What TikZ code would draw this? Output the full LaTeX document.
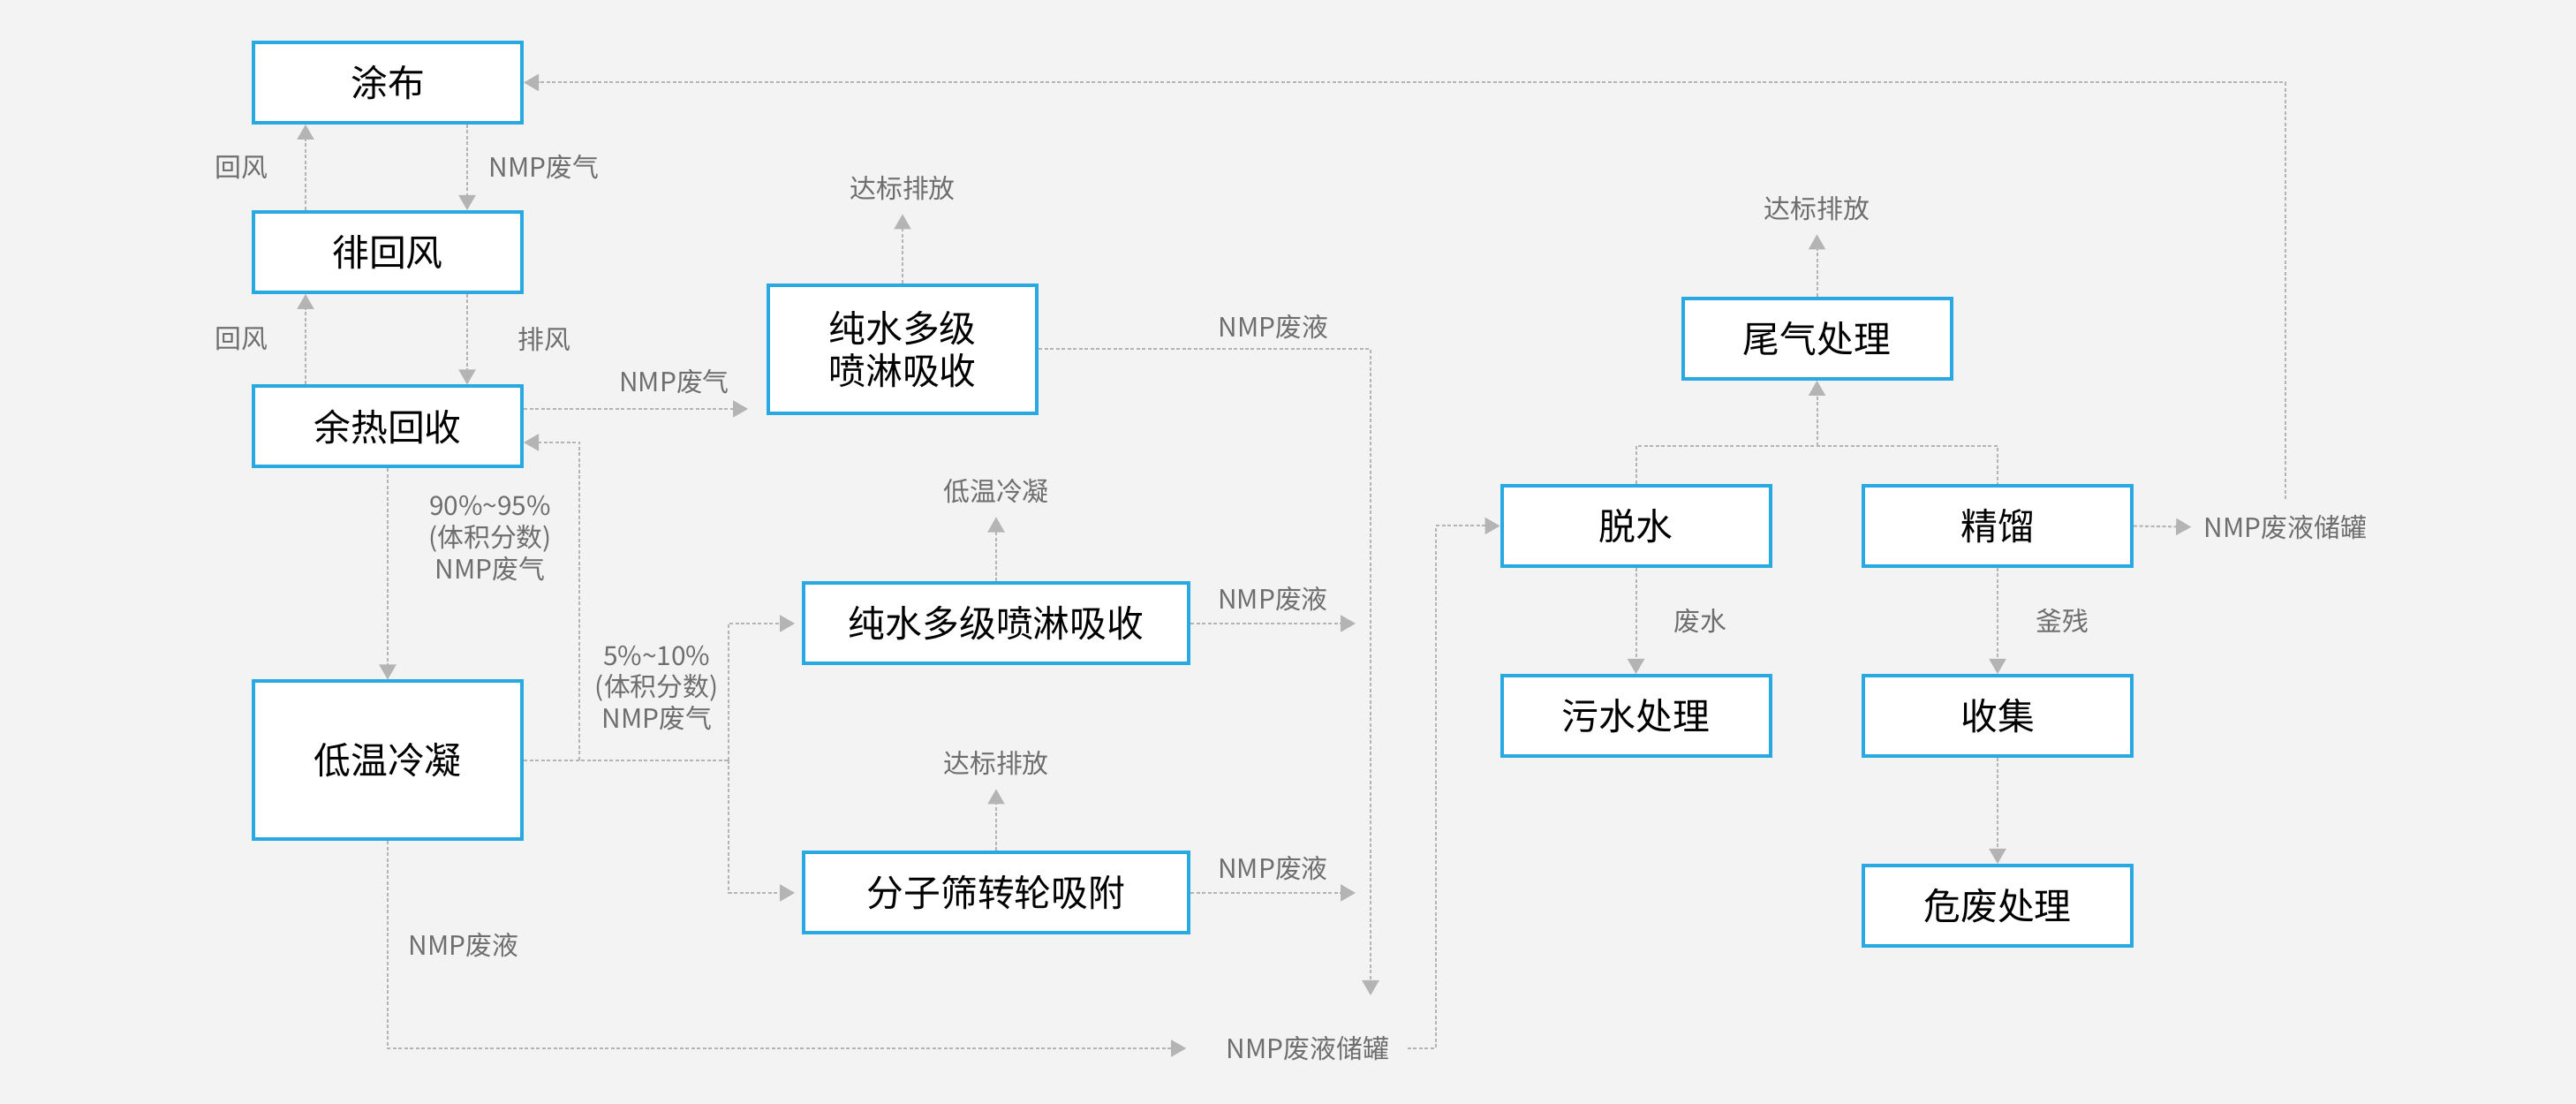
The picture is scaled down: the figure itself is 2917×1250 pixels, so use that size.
\documentclass[tikz,border=0pt]{standalone}
\usepackage{fontspec}
\setmainfont{Noto Sans CJK SC}
\usetikzlibrary{arrows.meta}
\definecolor{boxblue}{HTML}{29A9E1}
\definecolor{linegray}{HTML}{B4B4B4}
\definecolor{textgray}{HTML}{6E6E6E}
\definecolor{bggray}{HTML}{F3F3F3}
\begin{document}
\begin{tikzpicture}[x=0.1mm, y=-0.1mm,
        box/.style={draw=boxblue, line width=0.4mm, fill=white, minimum width=30.4mm, minimum height=9.1mm, inner sep=0pt, align=center, font=\fontsize{11.9pt}{13.7pt}\selectfont},
        lbl/.style={text=textgray, inner sep=0pt, align=center, font=\fontsize{8.5pt}{10.2pt}\selectfont},
        flow/.style={draw=linegray, line width=0.2mm, dash pattern=on 0.4mm off 0.25mm},
        >={Triangle[length=1.7mm, width=1.9mm]}]
        \fill[bggray] (0,0) rectangle (2917,1250) ;
        \useasboundingbox (0,0) rectangle (2917,1250) ;
        % process boxes
        \node[box] (tubu) at (439,93.5) {涂布} ;
        \node[box] (paihui) at (439,285.5) {徘回风} ;
        \node[box] (yure) at (439,483) {余热回收} ;
        \node[box, minimum height=17.9mm] (diwen) at (439,861) {低温冷凝} ;
        \node[box, minimum height=14.5mm] (penlin) at (1022,395.5) {纯水多级\\喷淋吸收} ;
        \node[box, minimum width=43.6mm] (penlinb) at (1128,706) {纯水多级喷淋吸收} ;
        \node[box, minimum width=43.6mm] (fenzi) at (1128,1011) {分子筛转轮吸附} ;
        \node[box] (weiqi) at (2057.5,383.5) {尾气处理} ;
        \node[box] (tuoshui) at (1852.5,595.5) {脱水} ;
        \node[box] (jingliu) at (2262,595.5) {精馏} ;
        \node[box] (wushui) at (1852.5,810.5) {污水处理} ;
        \node[box] (shouji) at (2262,810.5) {收集} ;
        \node[box] (weifei) at (2262,1025.5) {危废处理} ;
        % end points
        \node[lbl] (dabiaoA) at (1022,213) {达标排放} ;
        \node[lbl] (lengning) at (1128,556) {低温冷凝} ;
        \node[lbl] (dabiaoB) at (1128,864) {达标排放} ;
        \node[lbl] (dabiaoC) at (2057.5,236) {达标排放} ;
        \node[lbl] (tankA) at (1481,1187) {NMP废液储罐} ;
        \node[lbl] (tankB) at (2588,597) {NMP废液储罐} ;
        \coordinate (back) at (656,861) ;
        \coordinate (split) at (825,861) ;
        \coordinate (drop) at (1552,1127) ;
        \coordinate (outB) at (1535,706) ;
        \coordinate (merge) at (2057.5,505) ;
        % coating loop
        \draw[flow, ->] ([xshift=-9.3mm]paihui.north) --node[lbl, midway, xshift=-7.3mm]{回风} ([xshift=-9.3mm]tubu.south) ;
        \draw[flow, ->] ([xshift=9mm]tubu.south) --node[lbl, midway, xshift=8.7mm]{NMP废气} ([xshift=9mm]paihui.north) ;
        \draw[flow, ->] ([xshift=-9.3mm]yure.north) --node[lbl, midway, xshift=-7.3mm]{回风} ([xshift=-9.3mm]paihui.south) ;
        \draw[flow, ->] ([xshift=9mm]paihui.south) --node[lbl, midway, xshift=8.7mm]{排风} ([xshift=9mm]yure.north) ;
        \draw[flow, ->, shorten >=2.1mm] ([yshift=2mm]yure.east) --node[lbl, pos=0.62, yshift=3.1mm]{NMP废气} ([yshift=2mm]yure.east -| penlin.west) ;
        \draw[flow, ->] (yure.south) --node[lbl, pos=0.33, xshift=11.6mm]{90\%\textasciitilde95\%\\(体积分数)\\NMP废气} (diwen.north) ;
        % condenser outlets
        \draw[flow] (diwen.east) --node[lbl, pos=0.65, yshift=8.2mm]{5\%\textasciitilde10\%\\(体积分数)\\NMP废气} (split) ;
        \draw[flow, ->] (back) |- ([yshift=-1.8mm]yure.east) ;
        \draw[flow, ->, shorten >=0.8mm] (split) |- (penlinb.west) ;
        \draw[flow, ->, shorten >=0.8mm] (split) |- (fenzi.west) ;
        \draw[flow, ->, shorten >=4.5mm] (diwen.south) |-node[lbl, pos=0.25, xshift=8.6mm]{NMP废液} (tankA.west) ;
        \draw[flow, ->, shorten <=2mm] (tankA.east) -- ++(52,0) |- (tuoshui.west) ;
        % absorber outlets
        \draw[flow, ->] (penlin.east) -|node[lbl, pos=0.354, yshift=2.5mm]{NMP废液} (drop) ;
        \draw[flow, ->] (penlinb.east) --node[lbl, midway, yshift=2.8mm]{NMP废液} (outB) ;
        \draw[flow, ->] (fenzi.east) --node[lbl, midway, yshift=2.8mm]{NMP废液} (fenzi.east -| outB) ;
        \draw[flow, ->, shorten >=1.5mm] (penlin.north) -- (dabiaoA.south) ;
        \draw[flow, ->, shorten >=1.5mm] (penlinb.north) -- (lengning.south) ;
        \draw[flow, ->, shorten >=1.5mm] (fenzi.north) -- (dabiaoB.south) ;
        % recovery side
        \draw[flow] (tuoshui.north) |- (merge) -| (jingliu.north) ;
        \draw[flow, ->] (merge) -- (weiqi.south) ;
        \draw[flow, ->, shorten >=1.5mm] (weiqi.north) -- (dabiaoC.south) ;
        \draw[flow, ->] (tuoshui.south) --node[lbl, midway, xshift=7.3mm]{废水} (wushui.north) ;
        \draw[flow, ->] (jingliu.south) --node[lbl, midway, xshift=7.3mm]{釜残} (shouji.north) ;
        \draw[flow, ->] (shouji.south) -- (weifei.north) ;
        \draw[flow, ->, shorten >=1.4mm] (jingliu.east) -- (tankB.west) ;
        \draw[flow, ->, shorten <=1.7mm] (tankB.north) |- (tubu.east) ;
\end{tikzpicture}
\end{document}
